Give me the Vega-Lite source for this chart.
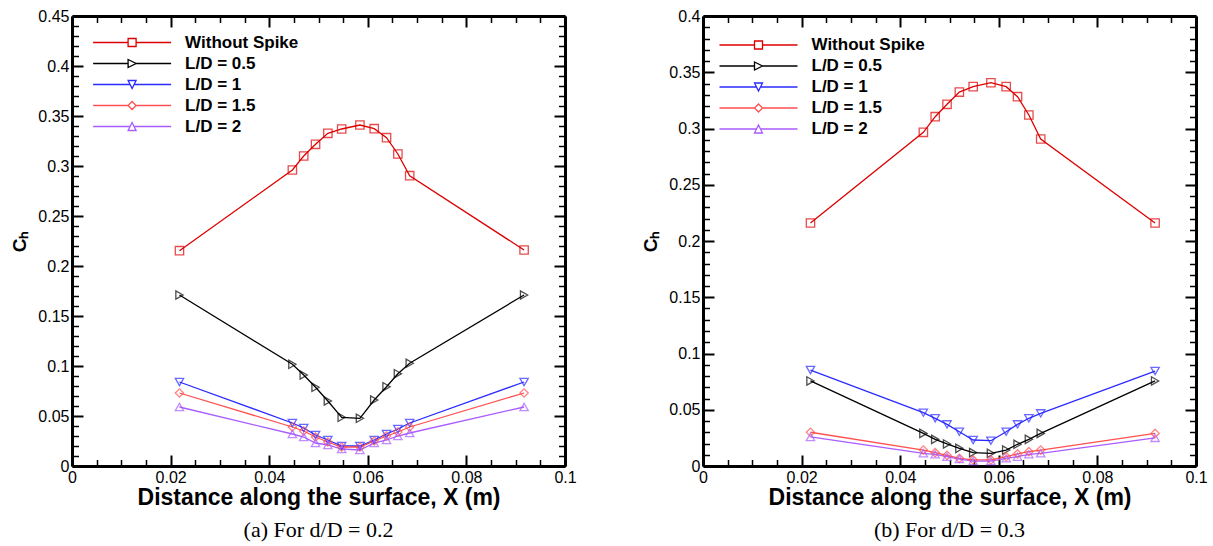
{
  "$schema": "https://vega.github.io/schema/vega-lite/v6.json",
  "padding": {"left": 10, "top": 8, "right": 5, "bottom": 5},
  "spacing": 64,
  "config": {
    "view": {"stroke": null},
    "axis": {"grid": false, "labelFont": "Liberation Sans", "titleFont": "Liberation Sans", "labelColor": "black", "titleColor": "black", "domainColor": "black", "tickColor": "black", "labelFontSize": 16, "titleFontSize": 19, "titleFontWeight": "bold", "domainWidth": 3},
    "title": {"font": "Liberation Serif", "fontSize": 22, "fontWeight": "normal", "color": "black"},
    "point": {"filled": false, "strokeWidth": 1.3, "size": 70}
  },
  "resolve": {"scale": {"color": "independent"}, "legend": {"color": "independent"}},
  "data": {"values": [
    {"p":"a","s":"Without Spike","x":0.0218,"y":0.2153},{"p":"a","s":"Without Spike","x":0.0447,"y":0.296},{"p":"a","s":"Without Spike","x":0.0470,"y":0.310},{"p":"a","s":"Without Spike","x":0.0494,"y":0.3217},{"p":"a","s":"Without Spike","x":0.0519,"y":0.3327},{"p":"a","s":"Without Spike","x":0.0547,"y":0.337},{"p":"a","s":"Without Spike","x":0.0584,"y":0.341},{"p":"a","s":"Without Spike","x":0.0613,"y":0.3373},{"p":"a","s":"Without Spike","x":0.0638,"y":0.3283},{"p":"a","s":"Without Spike","x":0.0661,"y":0.312},{"p":"a","s":"Without Spike","x":0.0685,"y":0.2903},{"p":"a","s":"Without Spike","x":0.0917,"y":0.216},
    {"p":"a","s":"L/D = 0.5","x":0.0218,"y":0.171},{"p":"a","s":"L/D = 0.5","x":0.0447,"y":0.1017},{"p":"a","s":"L/D = 0.5","x":0.0470,"y":0.091},{"p":"a","s":"L/D = 0.5","x":0.0494,"y":0.0787},{"p":"a","s":"L/D = 0.5","x":0.0519,"y":0.065},{"p":"a","s":"L/D = 0.5","x":0.0547,"y":0.0487},{"p":"a","s":"L/D = 0.5","x":0.0584,"y":0.0477},{"p":"a","s":"L/D = 0.5","x":0.0613,"y":0.066},{"p":"a","s":"L/D = 0.5","x":0.0638,"y":0.0793},{"p":"a","s":"L/D = 0.5","x":0.0661,"y":0.0923},{"p":"a","s":"L/D = 0.5","x":0.0685,"y":0.1027},{"p":"a","s":"L/D = 0.5","x":0.0917,"y":0.171},
    {"p":"a","s":"L/D = 1","x":0.0218,"y":0.084},{"p":"a","s":"L/D = 1","x":0.0447,"y":0.043},{"p":"a","s":"L/D = 1","x":0.0470,"y":0.038},{"p":"a","s":"L/D = 1","x":0.0494,"y":0.031},{"p":"a","s":"L/D = 1","x":0.0519,"y":0.026},{"p":"a","s":"L/D = 1","x":0.0547,"y":0.020},{"p":"a","s":"L/D = 1","x":0.0584,"y":0.020},{"p":"a","s":"L/D = 1","x":0.0613,"y":0.026},{"p":"a","s":"L/D = 1","x":0.0638,"y":0.032},{"p":"a","s":"L/D = 1","x":0.0661,"y":0.037},{"p":"a","s":"L/D = 1","x":0.0685,"y":0.043},{"p":"a","s":"L/D = 1","x":0.0917,"y":0.084},
    {"p":"a","s":"L/D = 1.5","x":0.0218,"y":0.073},{"p":"a","s":"L/D = 1.5","x":0.0447,"y":0.039},{"p":"a","s":"L/D = 1.5","x":0.0470,"y":0.035},{"p":"a","s":"L/D = 1.5","x":0.0494,"y":0.029},{"p":"a","s":"L/D = 1.5","x":0.0519,"y":0.024},{"p":"a","s":"L/D = 1.5","x":0.0547,"y":0.019},{"p":"a","s":"L/D = 1.5","x":0.0584,"y":0.019},{"p":"a","s":"L/D = 1.5","x":0.0613,"y":0.025},{"p":"a","s":"L/D = 1.5","x":0.0638,"y":0.030},{"p":"a","s":"L/D = 1.5","x":0.0661,"y":0.034},{"p":"a","s":"L/D = 1.5","x":0.0685,"y":0.039},{"p":"a","s":"L/D = 1.5","x":0.0917,"y":0.073},
    {"p":"a","s":"L/D = 2","x":0.0218,"y":0.059},{"p":"a","s":"L/D = 2","x":0.0447,"y":0.032},{"p":"a","s":"L/D = 2","x":0.0470,"y":0.029},{"p":"a","s":"L/D = 2","x":0.0494,"y":0.023},{"p":"a","s":"L/D = 2","x":0.0519,"y":0.021},{"p":"a","s":"L/D = 2","x":0.0547,"y":0.017},{"p":"a","s":"L/D = 2","x":0.0584,"y":0.016},{"p":"a","s":"L/D = 2","x":0.0613,"y":0.023},{"p":"a","s":"L/D = 2","x":0.0638,"y":0.026},{"p":"a","s":"L/D = 2","x":0.0661,"y":0.030},{"p":"a","s":"L/D = 2","x":0.0685,"y":0.033},{"p":"a","s":"L/D = 2","x":0.0917,"y":0.059},
    {"p":"b","s":"Without Spike","x":0.0218,"y":0.216},{"p":"b","s":"Without Spike","x":0.0447,"y":0.2966},{"p":"b","s":"Without Spike","x":0.0471,"y":0.3105},{"p":"b","s":"Without Spike","x":0.0495,"y":0.3215},{"p":"b","s":"Without Spike","x":0.0520,"y":0.3324},{"p":"b","s":"Without Spike","x":0.0548,"y":0.3372},{"p":"b","s":"Without Spike","x":0.0584,"y":0.3407},{"p":"b","s":"Without Spike","x":0.0615,"y":0.3372},{"p":"b","s":"Without Spike","x":0.0638,"y":0.3283},{"p":"b","s":"Without Spike","x":0.0661,"y":0.312},{"p":"b","s":"Without Spike","x":0.0685,"y":0.2907},{"p":"b","s":"Without Spike","x":0.0917,"y":0.216},
    {"p":"b","s":"L/D = 0.5","x":0.0218,"y":0.0756},{"p":"b","s":"L/D = 0.5","x":0.0447,"y":0.029},{"p":"b","s":"L/D = 0.5","x":0.0471,"y":0.0237},{"p":"b","s":"L/D = 0.5","x":0.0495,"y":0.0196},{"p":"b","s":"L/D = 0.5","x":0.0520,"y":0.0157},{"p":"b","s":"L/D = 0.5","x":0.0548,"y":0.0119},{"p":"b","s":"L/D = 0.5","x":0.0584,"y":0.0113},{"p":"b","s":"L/D = 0.5","x":0.0615,"y":0.0142},{"p":"b","s":"L/D = 0.5","x":0.0638,"y":0.0193},{"p":"b","s":"L/D = 0.5","x":0.0661,"y":0.0237},{"p":"b","s":"L/D = 0.5","x":0.0685,"y":0.029},{"p":"b","s":"L/D = 0.5","x":0.0917,"y":0.0756},
    {"p":"b","s":"L/D = 1","x":0.0218,"y":0.0853},{"p":"b","s":"L/D = 1","x":0.0447,"y":0.0474},{"p":"b","s":"L/D = 1","x":0.0471,"y":0.0424},{"p":"b","s":"L/D = 1","x":0.0495,"y":0.037},{"p":"b","s":"L/D = 1","x":0.0520,"y":0.0305},{"p":"b","s":"L/D = 1","x":0.0548,"y":0.0231},{"p":"b","s":"L/D = 1","x":0.0584,"y":0.0225},{"p":"b","s":"L/D = 1","x":0.0615,"y":0.0305},{"p":"b","s":"L/D = 1","x":0.0638,"y":0.037},{"p":"b","s":"L/D = 1","x":0.0661,"y":0.0424},{"p":"b","s":"L/D = 1","x":0.0685,"y":0.0468},{"p":"b","s":"L/D = 1","x":0.0917,"y":0.0844},
    {"p":"b","s":"L/D = 1.5","x":0.0218,"y":0.030},{"p":"b","s":"L/D = 1.5","x":0.0447,"y":0.0142},{"p":"b","s":"L/D = 1.5","x":0.0471,"y":0.0119},{"p":"b","s":"L/D = 1.5","x":0.0495,"y":0.0095},{"p":"b","s":"L/D = 1.5","x":0.0520,"y":0.0068},{"p":"b","s":"L/D = 1.5","x":0.0548,"y":0.0054},{"p":"b","s":"L/D = 1.5","x":0.0584,"y":0.0054},{"p":"b","s":"L/D = 1.5","x":0.0615,"y":0.0083},{"p":"b","s":"L/D = 1.5","x":0.0638,"y":0.0107},{"p":"b","s":"L/D = 1.5","x":0.0661,"y":0.0127},{"p":"b","s":"L/D = 1.5","x":0.0685,"y":0.0142},{"p":"b","s":"L/D = 1.5","x":0.0917,"y":0.029},
    {"p":"b","s":"L/D = 2","x":0.0218,"y":0.0258},{"p":"b","s":"L/D = 2","x":0.0447,"y":0.0113},{"p":"b","s":"L/D = 2","x":0.0471,"y":0.0104},{"p":"b","s":"L/D = 2","x":0.0495,"y":0.0083},{"p":"b","s":"L/D = 2","x":0.0520,"y":0.0062},{"p":"b","s":"L/D = 2","x":0.0548,"y":0.0044},{"p":"b","s":"L/D = 2","x":0.0584,"y":0.0044},{"p":"b","s":"L/D = 2","x":0.0615,"y":0.0068},{"p":"b","s":"L/D = 2","x":0.0638,"y":0.0083},{"p":"b","s":"L/D = 2","x":0.0661,"y":0.0104},{"p":"b","s":"L/D = 2","x":0.0685,"y":0.0113},{"p":"b","s":"L/D = 2","x":0.0917,"y":0.025}
  ]},
  "hconcat": [
    {
      "width": 493, "height": 450,
      "title": {"text": "(a) For d/D = 0.2", "orient": "bottom", "offset": 11},
      "transform": [{"filter": "datum.p === 'a'"}],
      "resolve": {"axis": {"x": "independent", "y": "independent"}},
      "layer": [
        {
          "mark": {"type": "line", "strokeWidth": 1.3},
          "encoding": {
            "x": {"field": "x", "type": "quantitative", "scale": {"domain": [0, 0.1], "nice": false, "zero": false},
                  "axis": {"orient": "bottom", "values": [0, 0.02, 0.04, 0.06, 0.08, 0.1], "format": ".2~f", "tickSize": -11, "tickWidth": 2, "labelPadding": 14, "labelFlush": false, "title": "Distance along the surface, X (m)", "titleFontSize": 23, "titlePadding": 1}},
            "y": {"field": "y", "type": "quantitative", "scale": {"domain": [0, 0.45], "nice": false, "zero": false},
                  "axis": {"orient": "left", "values": [0, 0.05, 0.1, 0.15, 0.2, 0.25, 0.3, 0.35, 0.4, 0.45], "format": ".2~f", "tickSize": -11, "tickWidth": 2, "labelPadding": 14, "labelFlush": false, "title": "Cₕ", "titlePadding": 8}},
            "color": {"field": "s", "type": "nominal",
                      "scale": {"domain": ["Without Spike", "L/D = 0.5", "L/D = 1", "L/D = 1.5", "L/D = 2"], "range": ["#dd0000", "#000000", "#2b2bff", "#ff5050", "#a95cff"]},
                      "legend": {"orient": "none", "legendX": 51.6, "legendY": 18, "title": null, "padding": 0, "labelFont": "Liberation Sans", "labelFontSize": 17, "labelFontWeight": "bold", "labelColor": "black", "labelOffset": 44.5, "symbolSize": 64, "symbolStrokeWidth": 1.3, "rowPadding": 3,
                        "encode": {"symbols": {
                          "enter": {"shape": {"signal": "datum.value === 'Without Spike' ? 'M-9.75,0L-1,0M1,0L9.75,0M-1,-1L1,-1L1,1L-1,1Z' : datum.value === 'L/D = 0.5' ? 'M-9.75,0L-1,0M1,0L9.75,0M-1,-1L1,0L-1,1Z' : datum.value === 'L/D = 1' ? 'M-9.75,0L-0.5,0M0.5,0L9.75,0M-1,-1L1,-1L0,1Z' : datum.value === 'L/D = 1.5' ? 'M-9.75,0L-1,0M1,0L9.75,0M0,-1L1,0L0,1L-1,0Z' : 'M-9.75,0L-0.5,0M0.5,0L9.75,0M0,-1L1,1L-1,1Z'"}},
                          "update": {"fill": {"value": "transparent"}, "strokeWidth": {"value": 1.3}, "shape": {"signal": "datum.value === 'Without Spike' ? 'M-9.75,0L-1,0M1,0L9.75,0M-1,-1L1,-1L1,1L-1,1Z' : datum.value === 'L/D = 0.5' ? 'M-9.75,0L-1,0M1,0L9.75,0M-1,-1L1,0L-1,1Z' : datum.value === 'L/D = 1' ? 'M-9.75,0L-0.5,0M0.5,0L9.75,0M-1,-1L1,-1L0,1Z' : datum.value === 'L/D = 1.5' ? 'M-9.75,0L-1,0M1,0L9.75,0M0,-1L1,0L0,1L-1,0Z' : 'M-9.75,0L-0.5,0M0.5,0L9.75,0M0,-1L1,1L-1,1Z'"}}}}}}
          }
        },
        {
          "mark": {"type": "point", "opacity": 0},
          "encoding": {
            "x": {"field": "x", "type": "quantitative", "scale": {"domain": [0, 0.1], "nice": false, "zero": false},
                  "axis": {"orient": "bottom", "values": [0.005, 0.01, 0.015, 0.025, 0.03, 0.035, 0.045, 0.05, 0.055, 0.065, 0.07, 0.075, 0.085, 0.09, 0.095], "labels": false, "domain": false, "tickSize": -6.5, "tickWidth": 1.5, "title": null}},
            "y": {"field": "y", "type": "quantitative", "scale": {"domain": [0, 0.45], "nice": false, "zero": false},
                  "axis": {"orient": "left", "values": [0.01, 0.02, 0.03, 0.04, 0.06, 0.07, 0.08, 0.09, 0.11, 0.12, 0.13, 0.14, 0.16, 0.17, 0.18, 0.19, 0.21, 0.22, 0.23, 0.24, 0.26, 0.27, 0.28, 0.29, 0.31, 0.32, 0.33, 0.34, 0.36, 0.37, 0.38, 0.39, 0.41, 0.42, 0.43, 0.44], "labels": false, "domain": false, "tickSize": -6.5, "tickWidth": 1.5, "title": null}}
          }
        },
        {
          "mark": {"type": "point", "opacity": 0},
          "encoding": {
            "x": {"field": "x", "type": "quantitative", "scale": {"domain": [0, 0.1], "nice": false, "zero": false},
                  "axis": {"orient": "top", "values": [0, 0.02, 0.04, 0.06, 0.08, 0.1], "labels": false, "tickSize": -11, "tickWidth": 2, "title": null}},
            "y": {"field": "y", "type": "quantitative", "scale": {"domain": [0, 0.45], "nice": false, "zero": false},
                  "axis": {"orient": "right", "values": [0, 0.05, 0.1, 0.15, 0.2, 0.25, 0.3, 0.35, 0.4, 0.45], "labels": false, "tickSize": -11, "tickWidth": 2, "title": null}}
          }
        },
        {
          "mark": {"type": "point", "opacity": 0},
          "encoding": {
            "x": {"field": "x", "type": "quantitative", "scale": {"domain": [0, 0.1], "nice": false, "zero": false},
                  "axis": {"orient": "top", "values": [0.005, 0.01, 0.015, 0.025, 0.03, 0.035, 0.045, 0.05, 0.055, 0.065, 0.07, 0.075, 0.085, 0.09, 0.095], "labels": false, "domain": false, "tickSize": -6.5, "tickWidth": 1.5, "title": null}},
            "y": {"field": "y", "type": "quantitative", "scale": {"domain": [0, 0.45], "nice": false, "zero": false},
                  "axis": {"orient": "right", "values": [0.01, 0.02, 0.03, 0.04, 0.06, 0.07, 0.08, 0.09, 0.11, 0.12, 0.13, 0.14, 0.16, 0.17, 0.18, 0.19, 0.21, 0.22, 0.23, 0.24, 0.26, 0.27, 0.28, 0.29, 0.31, 0.32, 0.33, 0.34, 0.36, 0.37, 0.38, 0.39, 0.41, 0.42, 0.43, 0.44], "labels": false, "domain": false, "tickSize": -6.5, "tickWidth": 1.5, "title": null}}
          }
        },
        {"transform": [{"filter": "datum.s === 'Without Spike'"}], "mark": {"type": "point", "shape": "square", "color": "#dd0000"},
         "encoding": {"x": {"field": "x", "type": "quantitative", "axis": null}, "y": {"field": "y", "type": "quantitative", "axis": null}}},
        {"transform": [{"filter": "datum.s === 'L/D = 0.5'"}], "mark": {"type": "point", "shape": "triangle-right", "color": "#000000"},
         "encoding": {"x": {"field": "x", "type": "quantitative", "axis": null}, "y": {"field": "y", "type": "quantitative", "axis": null}}},
        {"transform": [{"filter": "datum.s === 'L/D = 1'"}], "mark": {"type": "point", "shape": "triangle-down", "color": "#2b2bff"},
         "encoding": {"x": {"field": "x", "type": "quantitative", "axis": null}, "y": {"field": "y", "type": "quantitative", "axis": null}}},
        {"transform": [{"filter": "datum.s === 'L/D = 1.5'"}], "mark": {"type": "point", "shape": "diamond", "color": "#ff5050"},
         "encoding": {"x": {"field": "x", "type": "quantitative", "axis": null}, "y": {"field": "y", "type": "quantitative", "axis": null}}},
        {"transform": [{"filter": "datum.s === 'L/D = 2'"}], "mark": {"type": "point", "shape": "triangle-up", "color": "#a95cff"},
         "encoding": {"x": {"field": "x", "type": "quantitative", "axis": null}, "y": {"field": "y", "type": "quantitative", "axis": null}}}
      ]
    },
    {
      "width": 493, "height": 450,
      "title": {"text": "(b) For d/D = 0.3", "orient": "bottom", "offset": 11},
      "transform": [{"filter": "datum.p === 'b'"}],
      "resolve": {"axis": {"x": "independent", "y": "independent"}},
      "layer": [
        {
          "mark": {"type": "line", "strokeWidth": 1.3},
          "encoding": {
            "x": {"field": "x", "type": "quantitative", "scale": {"domain": [0, 0.1], "nice": false, "zero": false},
                  "axis": {"orient": "bottom", "values": [0, 0.02, 0.04, 0.06, 0.08, 0.1], "format": ".2~f", "tickSize": -11, "tickWidth": 2, "labelPadding": 14, "labelFlush": false, "title": "Distance along the surface, X (m)", "titleFontSize": 23, "titlePadding": 1}},
            "y": {"field": "y", "type": "quantitative", "scale": {"domain": [0, 0.4], "nice": false, "zero": false},
                  "axis": {"orient": "left", "values": [0, 0.05, 0.1, 0.15, 0.2, 0.25, 0.3, 0.35, 0.4], "format": ".2~f", "tickSize": -11, "tickWidth": 2, "labelPadding": 14, "labelFlush": false, "title": "Cₕ", "titlePadding": 8}},
            "color": {"field": "s", "type": "nominal",
                      "scale": {"domain": ["Without Spike", "L/D = 0.5", "L/D = 1", "L/D = 1.5", "L/D = 2"], "range": ["#dd0000", "#000000", "#2b2bff", "#ff5050", "#a95cff"]},
                      "legend": {"orient": "none", "legendX": 47, "legendY": 20.5, "title": null, "padding": 0, "labelFont": "Liberation Sans", "labelFontSize": 17, "labelFontWeight": "bold", "labelColor": "black", "labelOffset": 44.5, "symbolSize": 64, "symbolStrokeWidth": 1.3, "rowPadding": 3,
                        "encode": {"symbols": {
                          "enter": {"shape": {"signal": "datum.value === 'Without Spike' ? 'M-9.75,0L-1,0M1,0L9.75,0M-1,-1L1,-1L1,1L-1,1Z' : datum.value === 'L/D = 0.5' ? 'M-9.75,0L-1,0M1,0L9.75,0M-1,-1L1,0L-1,1Z' : datum.value === 'L/D = 1' ? 'M-9.75,0L-0.5,0M0.5,0L9.75,0M-1,-1L1,-1L0,1Z' : datum.value === 'L/D = 1.5' ? 'M-9.75,0L-1,0M1,0L9.75,0M0,-1L1,0L0,1L-1,0Z' : 'M-9.75,0L-0.5,0M0.5,0L9.75,0M0,-1L1,1L-1,1Z'"}},
                          "update": {"fill": {"value": "transparent"}, "strokeWidth": {"value": 1.3}, "shape": {"signal": "datum.value === 'Without Spike' ? 'M-9.75,0L-1,0M1,0L9.75,0M-1,-1L1,-1L1,1L-1,1Z' : datum.value === 'L/D = 0.5' ? 'M-9.75,0L-1,0M1,0L9.75,0M-1,-1L1,0L-1,1Z' : datum.value === 'L/D = 1' ? 'M-9.75,0L-0.5,0M0.5,0L9.75,0M-1,-1L1,-1L0,1Z' : datum.value === 'L/D = 1.5' ? 'M-9.75,0L-1,0M1,0L9.75,0M0,-1L1,0L0,1L-1,0Z' : 'M-9.75,0L-0.5,0M0.5,0L9.75,0M0,-1L1,1L-1,1Z'"}}}}}}
          }
        },
        {
          "mark": {"type": "point", "opacity": 0},
          "encoding": {
            "x": {"field": "x", "type": "quantitative", "scale": {"domain": [0, 0.1], "nice": false, "zero": false},
                  "axis": {"orient": "bottom", "values": [0.005, 0.01, 0.015, 0.025, 0.03, 0.035, 0.045, 0.05, 0.055, 0.065, 0.07, 0.075, 0.085, 0.09, 0.095], "labels": false, "domain": false, "tickSize": -6.5, "tickWidth": 1.5, "title": null}},
            "y": {"field": "y", "type": "quantitative", "scale": {"domain": [0, 0.4], "nice": false, "zero": false},
                  "axis": {"orient": "left", "values": [0.01, 0.02, 0.03, 0.04, 0.06, 0.07, 0.08, 0.09, 0.11, 0.12, 0.13, 0.14, 0.16, 0.17, 0.18, 0.19, 0.21, 0.22, 0.23, 0.24, 0.26, 0.27, 0.28, 0.29, 0.31, 0.32, 0.33, 0.34, 0.36, 0.37, 0.38, 0.39], "labels": false, "domain": false, "tickSize": -6.5, "tickWidth": 1.5, "title": null}}
          }
        },
        {
          "mark": {"type": "point", "opacity": 0},
          "encoding": {
            "x": {"field": "x", "type": "quantitative", "scale": {"domain": [0, 0.1], "nice": false, "zero": false},
                  "axis": {"orient": "top", "values": [0, 0.02, 0.04, 0.06, 0.08, 0.1], "labels": false, "tickSize": -11, "tickWidth": 2, "title": null}},
            "y": {"field": "y", "type": "quantitative", "scale": {"domain": [0, 0.4], "nice": false, "zero": false},
                  "axis": {"orient": "right", "values": [0, 0.05, 0.1, 0.15, 0.2, 0.25, 0.3, 0.35, 0.4], "labels": false, "tickSize": -11, "tickWidth": 2, "title": null}}
          }
        },
        {
          "mark": {"type": "point", "opacity": 0},
          "encoding": {
            "x": {"field": "x", "type": "quantitative", "scale": {"domain": [0, 0.1], "nice": false, "zero": false},
                  "axis": {"orient": "top", "values": [0.005, 0.01, 0.015, 0.025, 0.03, 0.035, 0.045, 0.05, 0.055, 0.065, 0.07, 0.075, 0.085, 0.09, 0.095], "labels": false, "domain": false, "tickSize": -6.5, "tickWidth": 1.5, "title": null}},
            "y": {"field": "y", "type": "quantitative", "scale": {"domain": [0, 0.4], "nice": false, "zero": false},
                  "axis": {"orient": "right", "values": [0.01, 0.02, 0.03, 0.04, 0.06, 0.07, 0.08, 0.09, 0.11, 0.12, 0.13, 0.14, 0.16, 0.17, 0.18, 0.19, 0.21, 0.22, 0.23, 0.24, 0.26, 0.27, 0.28, 0.29, 0.31, 0.32, 0.33, 0.34, 0.36, 0.37, 0.38, 0.39], "labels": false, "domain": false, "tickSize": -6.5, "tickWidth": 1.5, "title": null}}
          }
        },
        {"transform": [{"filter": "datum.s === 'Without Spike'"}], "mark": {"type": "point", "shape": "square", "color": "#dd0000"},
         "encoding": {"x": {"field": "x", "type": "quantitative", "axis": null}, "y": {"field": "y", "type": "quantitative", "axis": null}}},
        {"transform": [{"filter": "datum.s === 'L/D = 0.5'"}], "mark": {"type": "point", "shape": "triangle-right", "color": "#000000"},
         "encoding": {"x": {"field": "x", "type": "quantitative", "axis": null}, "y": {"field": "y", "type": "quantitative", "axis": null}}},
        {"transform": [{"filter": "datum.s === 'L/D = 1'"}], "mark": {"type": "point", "shape": "triangle-down", "color": "#2b2bff"},
         "encoding": {"x": {"field": "x", "type": "quantitative", "axis": null}, "y": {"field": "y", "type": "quantitative", "axis": null}}},
        {"transform": [{"filter": "datum.s === 'L/D = 1.5'"}], "mark": {"type": "point", "shape": "diamond", "color": "#ff5050"},
         "encoding": {"x": {"field": "x", "type": "quantitative", "axis": null}, "y": {"field": "y", "type": "quantitative", "axis": null}}},
        {"transform": [{"filter": "datum.s === 'L/D = 2'"}], "mark": {"type": "point", "shape": "triangle-up", "color": "#a95cff"},
         "encoding": {"x": {"field": "x", "type": "quantitative", "axis": null}, "y": {"field": "y", "type": "quantitative", "axis": null}}}
      ]
    }
  ]
}
